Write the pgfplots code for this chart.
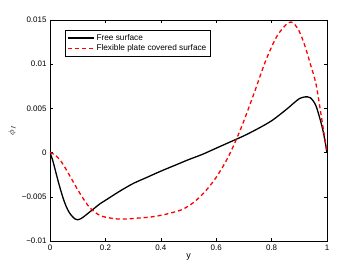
\documentclass[border=0pt]{standalone}
\usepackage{pgfplots}
\pgfplotsset{compat=1.18}
\usepackage{fontspec}
\setmainfont{Liberation Sans}
\begin{document}
\begin{tikzpicture}[x=1bp,y=1bp]
\begin{axis}[
  at={(0,0)}, anchor=south west,
  scale only axis, width=277bp, height=221bp,
  xmin=0, xmax=1, ymin=-0.01, ymax=0.015,
  xtick={0,0.2,0.4,0.6,0.8,1},
  xticklabels={0,0.2,0.4,0.6,0.8,1},
  ytick={-0.01,-0.005,0,0.005,0.01,0.015},
  yticklabels={−0.01,−0.005,0,0.005,0.01,0.015},
  scaled y ticks=false,
  tick align=inside, tick pos=both,
  major tick length=3bp,
  tick style={black, line width=0.5bp},
  axis line style={line width=0.6bp},
  tick label style={font=\fontsize{8}{9}\selectfont},
  xlabel={y}, ylabel={$\phi_I$},
  label style={font=\fontsize{9}{10}\selectfont},
  xlabel style={yshift=3bp},
  ylabel style={yshift=-1bp},
  legend style={at={(0.054,0.955)}, anchor=north west, font=\fontsize{8.3}{9}\selectfont,
    draw=black, line width=0.5bp, inner sep=2bp, row sep=-1bp, cells={anchor=west}},
  legend cell align=left,
  legend image code/.code={\draw[#1, line width=1.3bp] (0bp,0bp) -- (26bp,0bp);},
  every axis plot/.append style={line width=1.3bp},
]
\addplot[black, smooth, tension=0.5] coordinates {
(0,0)(0.01,-0.0009)(0.02,-0.0021)(0.03,-0.0033)(0.04,-0.0044)(0.05,-0.0054)(0.06,-0.0062)(0.07,-0.0068)(0.08,-0.0072)(0.09,-0.0075)(0.10,-0.0076)(0.11,-0.0075)(0.12,-0.0073)(0.14,-0.0068)(0.16,-0.0063)(0.18,-0.0058)(0.20,-0.0054)(0.25,-0.0044)(0.30,-0.0035)(0.35,-0.0028)(0.40,-0.0021)(0.45,-0.00145)(0.50,-0.0008)(0.55,-0.0002)(0.60,0.0005)(0.65,0.0012)(0.70,0.0019)(0.75,0.0027)(0.80,0.0036)(0.85,0.0048)(0.88,0.0056)(0.90,0.0061)(0.92,0.0063)(0.94,0.0062)(0.96,0.0053)(0.98,0.0032)(0.99,0.0018)(1.0,0.0)
};
\addlegendentry{Free surface}
\addplot[red, dash pattern=on 4bp off 3bp, smooth, tension=0.5] coordinates {
(0,0)(0.02,-0.0003)(0.04,-0.0010)(0.06,-0.0020)(0.08,-0.0031)(0.10,-0.0042)(0.12,-0.0052)(0.14,-0.0061)(0.16,-0.0067)(0.18,-0.0071)(0.20,-0.0073)(0.24,-0.0075)(0.28,-0.0075)(0.32,-0.0074)(0.36,-0.0073)(0.40,-0.0071)(0.44,-0.0068)(0.48,-0.0064)(0.52,-0.0056)(0.56,-0.0044)(0.60,-0.0028)(0.64,-0.0007)(0.67,0.0013)(0.70,0.0036)(0.74,0.0070)(0.78,0.0105)(0.82,0.0132)(0.86,0.0147)(0.88,0.0146)(0.90,0.0137)(0.92,0.0121)(0.94,0.0100)(0.96,0.0078)(0.98,0.0040)(1.0,0.0)
};
\addlegendentry{Flexible plate covered surface}
\end{axis}
\pgfresetboundingbox
\path (-50bp,-30bp) rectangle (310bp,241bp);
\end{tikzpicture}
\end{document}
